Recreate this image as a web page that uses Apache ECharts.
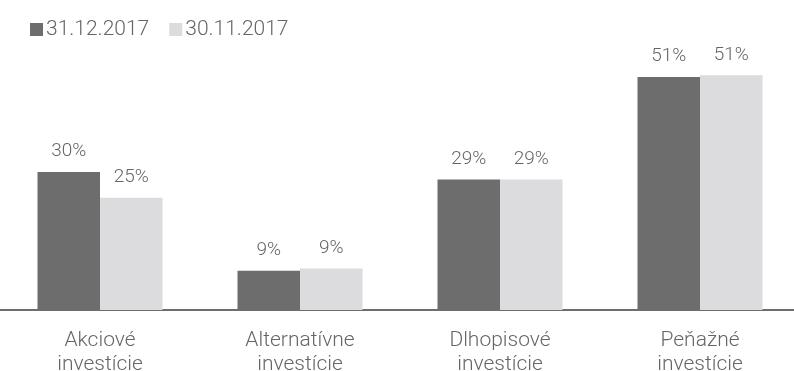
<!DOCTYPE html>
<html>
<head>
<meta charset="utf-8">
<script src="https://cdn.jsdelivr.net/npm/echarts@6/dist/echarts.min.js"></script>
<style>
  html, body { margin: 0; padding: 0; background: #fff; overflow: hidden; }
  #chart { width: 800px; height: 371px; }
</style>
</head>
<body>
<div id="chart"></div>
<script>
const categories = ["Akciové\ninvestície", "Alternatívne\ninvestície", "Dlhopisové\ninvestície", "Peňažné\ninvestície"];
const dec2017 = [30.2, 8.6, 28.6, 51.0];
const nov2017 = [24.6, 9.1, 28.6, 51.4];
const seriesNames = ["31.12.2017", "30.11.2017"];

const FONT = "Roboto";
const TEXT = "#666666";

const chart = echarts.init(document.getElementById("chart"));

const valueLabel = {
  show: true,
  position: "top",
  distance: 11,
  fontFamily: FONT,
  fontWeight: 300,
  fontSize: 19,
  color: TEXT,
  formatter: p => Math.round(p.value) + "%"
};

chart.setOption({
  animation: false,
  legend: {
    left: 25,
    top: 14,
    itemWidth: 13,
    itemHeight: 13,
    itemGap: 20,
    icon: "rect",
    textStyle: { fontFamily: FONT, fontWeight: 300, fontSize: 21, color: TEXT, padding: [0, 0, 0, -2] },
    data: seriesNames
  },
  grid: { left: 0, right: 0, top: 36, bottom: 61, containLabel: false, outerBoundsMode: "none" },
  xAxis: {
    type: "category",
    data: categories,
    axisLine: { lineStyle: { color: "#6d6d6d", width: 2 } },
    axisTick: { show: false },
    axisLabel: {
      margin: 19,
      fontFamily: FONT,
      fontWeight: 300,
      fontSize: 21,
      lineHeight: 24,
      color: TEXT
    }
  },
  yAxis: {
    type: "value",
    min: 0,
    max: 60,
    show: false,
    splitLine: { show: false }
  },
  series: [
    {
      name: seriesNames[0],
      type: "bar",
      data: dec2017,
      barGap: "0%",
      barCategoryGap: "37.5%",
      itemStyle: { color: "#6d6d6d" },
      label: valueLabel
    },
    {
      name: seriesNames[1],
      type: "bar",
      data: nov2017,
      itemStyle: { color: "#dcdcde" },
      label: valueLabel
    }
  ]
});
</script>
</body>
</html>
